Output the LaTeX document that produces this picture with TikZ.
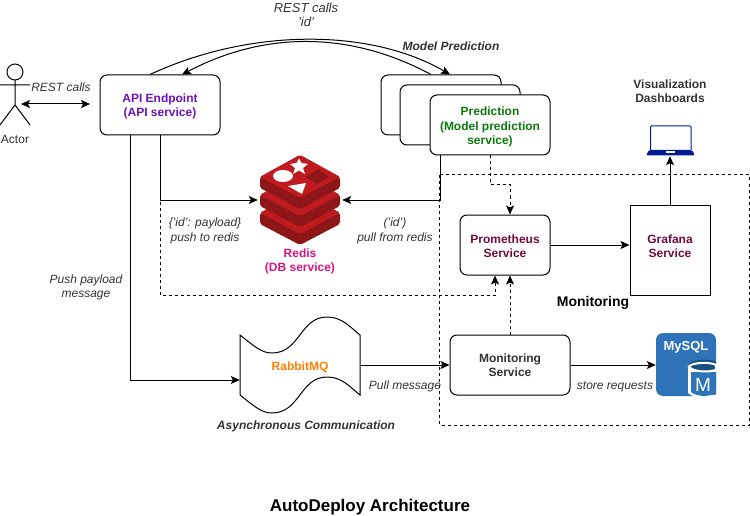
\documentclass[tikz,border=0pt]{standalone}
\usepackage{fontspec}
\setmainfont{Liberation Sans}
\usetikzlibrary{arrows.meta, positioning}
\definecolor{redislight}{HTML}{BE1A20}
\definecolor{redisdark}{HTML}{8E1518}
\definecolor{mysqlblue}{HTML}{2F74B9}
\definecolor{mysqldark}{HTML}{1B4F82}
\definecolor{laptopblue}{HTML}{001A8F}
\definecolor{labelgray}{HTML}{333333}
\definecolor{promred}{HTML}{730A3A}
\definecolor{apipurple}{HTML}{6A12BE}
\definecolor{predgreen}{HTML}{0B7A0B}
\definecolor{redispink}{HTML}{D6147F}
% one slab of the redis stack, top corner given by #1
\newcommand{\redisslab}[1]{
  \fill[redisdark, rounded corners=2pt] (260,#1+22) -- (300,#1) -- (340,#1+22) -- (340,#1+33) -- (300,#1+54) -- (260,#1+33) -- cycle;
  \fill[redislight, rounded corners=2pt] (260,#1+22) -- (300,#1) -- (340,#1+22) -- (300,#1+43) -- cycle;
}

\begin{document}
\begin{tikzpicture}[
      x=1pt, y=-1pt,
      every node/.style={font=\fontsize{12}{14.5}\selectfont, align=center, inner sep=0pt},
      box/.style={rectangle, draw, line width=1pt, minimum width=120pt, minimum height=60pt, rounded corners=7pt, fill=white, font=\fontsize{12}{14.5}\selectfont\bfseries},
      icon/.style={rectangle, minimum width=84pt, minimum height=90pt},
      note/.style={text=labelgray, font=\fontsize{12}{14.5}\selectfont\itshape},
      heading/.style={font=\fontsize{12}{14.5}\selectfont\bfseries\itshape, text=labelgray},
      plainbold/.style={font=\fontsize{12}{14.5}\selectfont\bfseries},
      arrow/.style={-{Stealth[length=9pt, width=8pt, inset=2pt]}, line width=1pt},
      dasharrow/.style={arrow, dash pattern=on 3pt off 3pt},
      line/.style={line width=1pt},
      node distance=80pt and 160pt
    ]
    \useasboundingbox (0,0) rectangle (750,516);

    % monitoring frame goes first, everything else sits on it
    \draw[line width=1pt, dash pattern=on 3pt off 3pt] (439.5,175) rectangle (749,425);

    % services
    \node[box] (api) at (160,105) {};
    \node[plainbold, text=apipurple] (apilabel) at (160,106.5) {API Endpoint\\(API service)};
    \node[box, right=of api] (predback) {};
    \node[box] (predmid) at (460,115) {};
    \node[box] (pred) at (490,125) {};
    \node[plainbold, text=predgreen] (predlabel) at (490,127) {Prediction\\(Model prediction\\service)};
    \node[icon] (redis) at (300,200) {};
    \node[plainbold, text=redispink] (redislabel) at (300,261.5) {Redis\\(DB service)};
    \node[box, text=labelgray] (monitor) at (510,365) {Monitoring\\Service};
    \node[box, minimum width=90pt] (prom) at (505,245) {};
    \node[plainbold, text=promred] (promlabel) at (505,246) {Prometheus\\Service};
    \node[box, rounded corners=0pt, minimum width=80pt, minimum height=90pt] (grafana) at (670,250) {};
    \node[plainbold, text=promred] (grafanalabel) at (670,246) {Grafana\\Service};
    \node[rectangle, minimum width=120pt, minimum height=60pt] (rabbit) at (300,365) {};
    \node[rectangle, minimum width=50pt, minimum height=30pt] (laptop) at (670,141) {};
    \node[rectangle, minimum width=60pt, minimum height=63pt] (mysql) at (686,365) {};
    \coordinate (actor) at (21,104);
    \coordinate (actorend) at (90,104);

    % actor
    \draw[line] (15,72) circle (8);
    \draw[line] (15,80) -- (15,105) (0,85) -- (30,85) (15,105) -- (0,125) (15,105) -- (30,125);
    \node[text=labelgray] (actorlabel) at (15,139) {Actor};

    % redis stack
    \redisslab{191}
    \redisslab{173}
    \redisslab{155}
    \fill[white] (299,158.5) -- (301.5,163) -- (308,164) -- (303,168) -- (305,174) -- (299,170.5) -- (293,174) -- (295,168) -- (290,164) -- (296.5,163) -- cycle;
    \fill[white] (283,176) ellipse (10 and 6);
    \fill[white] (288,186) -- (306,183) -- (302,194) -- cycle;
    \fill[redisdark] (306,177) -- (319,169) -- (329,177) -- (317,184) -- cycle;

    % rabbitmq tape
    \draw[line, fill=white] (240,335) .. controls (255,347) and (262,353) .. (272,353) .. controls (300,353) and (300,317) .. (327,317) .. controls (342,317) and (350,327) .. (360,335)
      -- (360,395) .. controls (350,387) and (342,377) .. (327,377) .. controls (300,377) and (300,413) .. (272,413) .. controls (262,413) and (255,407) .. (240,395) -- cycle;
    \node[plainbold, text=orange] (rabbitlabel) at (300,367) {RabbitMQ};

    % mysql icon
    \fill[mysqlblue, rounded corners=7pt] (656,333) rectangle (716,396);
    \node[text=white, font=\fontsize{13}{15}\selectfont\bfseries] (mysqllabel) at (686,347) {MySQL};
    \fill[white] (688,364) -- (716,364) -- (716,395) -- (705,398) .. controls (698,398) and (691,396) .. (688,393) -- cycle;
    \fill[mysqldark] (688,365) .. controls (691,358.5) and (713,358.5) .. (716,362) -- (716,366) -- (688,366) -- cycle;
    \fill[mysqlblue] (691,372) -- (716,372) -- (716,394.5) -- (705,396) .. controls (699,396) and (694,394.5) .. (691,392) -- cycle;
    \draw[white, line width=2pt, fill=mysqldark] (689,366.5) .. controls (692,362) and (712,362) .. (716,365) -- (716,369.5) .. controls (712,372.5) and (692,372.5) .. (689,366.5) -- cycle;
    \node[text=white, font=\fontsize{19}{20}\selectfont] (mysqlm) at (703,385) {M};

    % laptop
    \draw[laptopblue, line width=1pt, rounded corners=1pt, fill=white] (650.5,150) -- (650.5,126) -- (691,126) -- (691,150);
    \fill[laptopblue, rounded corners=1.5pt] (649,150) -- (692,150) -- (695,155.5) -- (646,155.5) -- cycle;
    \fill[white] (666,151.5) rectangle (675,153);

    % connectors
    \draw[arrow, {Stealth[length=9pt, width=8pt, inset=2pt]}-{Stealth[length=9pt, width=8pt, inset=2pt]}] (actor) -- (actorend);
    \draw[arrow] ([xshift=-10pt]api.north) .. controls (250,28) and (370,28) .. ([xshift=9pt]predback.north);
    \draw[arrow] ([xshift=-10pt]predback.north) .. controls (350,31) and (265,31) .. ([xshift=22pt]api.north);
    \draw[arrow] ([xshift=-30pt]api.south) |- ([yshift=-15pt]rabbit.west);
    \draw[arrow] (api.south) |- (redis.west);
    \draw[dasharrow] (api.south) |- (160,295) -| ([xshift=-10pt]prom.south);
    \draw[arrow] ([xshift=-50pt]pred.south) |- (redis.east);
    \draw[dasharrow] (pred.south) |- (510,185) -- (prom.north -| 510,185);
    \draw[arrow] (prom) -- (prom -| grafana.west);
    \draw[arrow] (grafana.north) -- (laptop.south);
    \draw[dasharrow] (monitor.north) -- (monitor.north |- prom.south);
    \draw[arrow] (rabbit) -- (monitor);
    \draw[arrow] (monitor) -- (mysql);

    % labels
    \node[note] (restlabel) at (61,87) {REST calls};
    \node[note, font=\fontsize{13}{14.5}\selectfont\itshape] (restid) at (306,15) {REST calls\\'id'};
    \node[heading] (modellabel) at (451,46) {Model Prediction};
    \node[plainbold, text=labelgray] (vislabel) at (670,91) {Visualization\\Dashboards};
    \node[note] (pushredis) at (205,231) {\{'id': payload\}\\push to redis};
    \node[note] (pullredis) at (395,231) {('id')\\pull from redis};
    \node[note] (pushmsg) at (86,287.5) {Push payload\\message};
    \node[font=\fontsize{14}{16}\selectfont\bfseries] (monlabel) at (593,303) {Monitoring};
    \node[note] (pullmsg) at (405,386.5) {Pull message};
    \node[note] (storereq) at (615,386.5) {store requests};
    \node[heading] (asynclabel) at (306,426) {Asynchronous Communication};
    \node[font=\fontsize{17}{19}\selectfont\bfseries] (title) at (370,507) {AutoDeploy Architecture};

\end{tikzpicture}
\end{document}
